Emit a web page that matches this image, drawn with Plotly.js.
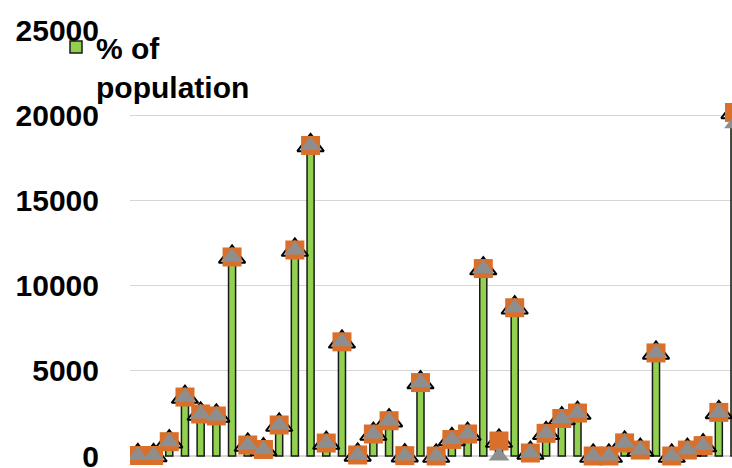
<!DOCTYPE html>
<html>
<head>
<meta charset="utf-8">
<script src="https://cdn.plot.ly/plotly-3.0.1.min.js"></script>
<style>
html,body{margin:0;padding:0;overflow:hidden;background:#fff;}
#chart{width:732px;height:468px;}
</style>
</head>
<body>
<div id="chart"></div>
<script>
const categories = ['1','2','3','4','5','6','7','8','9','10','11','12','13','14','15','16','17','18','19','20',
  '21','22','23','24','25','26','27','28','29','30','31','32','33','34','35','36','37','38','39'];
const barValues = [30, 30, 840, 3460, 2465, 2350, 11680, 645, 380, 1820, 12090, 18225, 760, 6700, 60, 1290, 2070, 20, 4310, 0,
  970, 1290, 11000, 880, 8700, 175, 1330, 2200, 2520, 0, 0, 770, 350, 6050, 0, 350, 610, 2560, 20160];
const outlineTriangleValues = [30, 30, 840, 3460, 2465, 2350, 11680, 645, 380, 1820, 12090, 18225, 760, 6700, 60, 1290, 2070, 20, 4310, 0,
  970, 1290, 11000, 880, 8700, 175, 1330, 2200, 2520, 0, 0, 770, 350, 6050, 0, 350, 610, 2560, 20160];
const squareValues = [30, 30, 840, 3460, 2465, 2350, 11680, 645, 380, 1820, 12090, 18225, 760, 6700, 60, 1290, 2070, 20, 4310, 0,
  970, 1290, 11000, 880, 8700, 175, 1330, 2200, 2520, 0, 0, 770, 350, 6050, 0, 350, 610, 2560, 20160];
const grayTriangleValues = [30, 30, 840, 3460, 2465, 2350, 11680, 645, 380, 1820, 12090, 18225, 760, 6700, 60, 1290, 2070, 20, 4310, 0,
  970, 1290, 11000, 0, 8700, 175, 1330, 2200, 2520, 0, 0, 770, 350, 6050, 0, 350, 610, 2560, 19500];
const legendLabel = '% of<br>population';

const fontFam = 'Liberation Sans, Arial, sans-serif';

const traces = [
  {
    type: 'bar', x: categories, y: barValues, name: legendLabel, showlegend: true,
    marker: {color: '#92D050', line: {color: '#1a1a1a', width: 1.5}},
    hoverinfo: 'skip'
  },
  {
    type: 'scatter', mode: 'markers', x: categories, y: outlineTriangleValues, showlegend: false,
    marker: {symbol: 'triangle-up', size: 23, color: '#ffffff', line: {color: '#000000', width: 2}}
  },
  {
    type: 'scatter', mode: 'markers', x: categories, y: squareValues, showlegend: false,
    marker: {symbol: 'square', size: 19, color: '#D8702C', line: {width: 0}}
  },
  {
    type: 'scatter', mode: 'markers', x: categories, y: grayTriangleValues, showlegend: false,
    marker: {symbol: 'triangle-up', size: 18, color: '#8E8E8E', line: {width: 0}}
  }
];

const layout = {
  width: 732, height: 468,
  margin: {l: 130, r: 0, t: 30, b: 0, pad: 0, autoexpand: false},
  paper_bgcolor: '#ffffff', plot_bgcolor: '#ffffff',
  bargap: 0.55,
  font: {family: fontFam, size: 30, color: '#000000', weight: 'bold'},
  xaxis: {
    type: 'category', range: [-0.5, 37.84], showticklabels: false, showgrid: false,
    zeroline: false, showline: false, ticks: '', automargin: false
  },
  yaxis: {
    range: [-704, 25000], tickvals: [0, 5000, 10000, 15000, 20000, 25000], tickformat: 'd',
    showgrid: true, gridcolor: '#d6d6d6', gridwidth: 1.3,
    zeroline: true, zerolinecolor: '#d6d6d6', zerolinewidth: 1.3, showline: false, ticks: '', automargin: false,
    tickfont: {family: fontFam, size: 30, color: '#000000', weight: 'bold'},
    ticklabelstandoff: 30, ticklabeloverflow: 'allow'
  },
  showlegend: true,
  legend: {
    xref: 'container', yref: 'container', x: 56/732, y: 1 - 21/468, xanchor: 'left', yanchor: 'top',
    bgcolor: 'rgba(0,0,0,0)', borderwidth: 0, valign: 'top',
    font: {family: fontFam, size: 30, color: '#000000', weight: 'bold'}
  }
};

Plotly.newPlot('chart', traces, layout, {displayModeBar: false, staticPlot: true});
</script>
</body>
</html>
